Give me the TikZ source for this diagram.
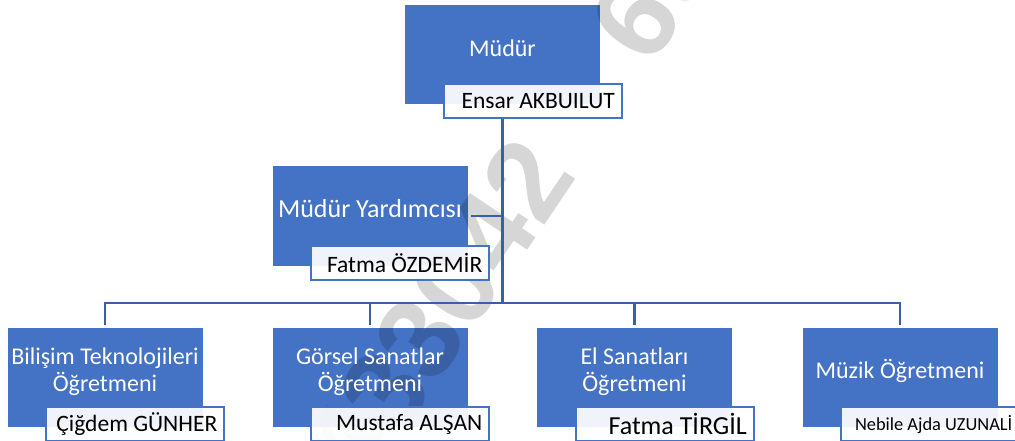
\documentclass[tikz,border=0pt]{standalone}
\usepackage{fontspec}
\setmainfont{Carlito}
\newfontfamily\wmfont{Liberation Sans}
\usetikzlibrary{positioning}
\definecolor{ofblue}{HTML}{4472C4}
\definecolor{linkblue}{HTML}{3A5FA8}

\begin{document}
\begin{tikzpicture}[x=1pt, y=-1pt,
    post/.style={fill=ofblue, minimum width=195pt, minimum height=99pt, inner sep=0pt},
    title/.style={text=white, align=center, inner sep=0pt, font=\fontsize{24}{27}\selectfont},
    namebox/.style={draw=ofblue, line width=2pt, fill=white, fill opacity=0.92, text opacity=1,
        minimum width=178pt, minimum height=34pt, inner sep=0pt, anchor=north west,
        text width=164pt, align=flush right, font=\fontsize{23.5}{26}\selectfont},
    link/.style={draw=linkblue, line width=2.5pt},
    watermark/.style={text=black, text opacity=0.16, inner sep=0pt,
        font=\wmfont\bfseries\fontsize{115}{115}\selectfont}]
    \useasboundingbox (0,0) rectangle (1015,441);

    % Boxes
    \node[post] (mudur) at (502.5,54.5) {};
    \node[post] (yard) at (370,216) {};
    \node[post] (bili) at (105,377.5) {};
    \node[post] (gorsel) at (370,377.5) {};
    \node[post] (el) at (634.5,377.5) {};
    \node[post] (muzik) at (900,377.5) {};

    % Watermark
    \node[watermark, rotate=56] (wm) at (510,206) {433042\hspace{0.85em} 60};

    % Titles
    \node[title] (mudurT) at ([yshift=6pt]mudur.center) {Müdür};
    \node[title, font=\fontsize{26}{30}\selectfont] (yardT) at ([yshift=7pt]yard.center) {Müdür Yardımcısı};
    \node[title] (biliT) at ([yshift=6pt]bili.center) {Bilişim Teknolojileri\\Öğretmeni};
    \node[title] (gorselT) at ([yshift=6pt]gorsel.center) {Görsel Sanatlar\\Öğretmeni};
    \node[title] (elT) at ([yshift=6pt]el.center) {El Sanatları\\Öğretmeni};
    \node[title] (muzikT) at ([yshift=7pt]muzik.center) {Müzik Öğretmeni};

    % Connectors
    \coordinate (bus) at (502.5,303);
    \draw[link] (mudur.south |- 0,118) -- (bus);
    \draw[link] ([xshift=3pt]yard.east) -- (yard.east -| bus);
    \foreach \n in {bili,gorsel,el,muzik}
        \draw[link] (bus) -| ([yshift=3pt]\n.north);

    % Names
    \node[namebox] (mudurN) at ([shift={(38,-21)}]mudur.south west) {Ensar AKBUILUT};
    \node[namebox] (yardN) at ([shift={(38,-21)}]yard.south west) {Fatma ÖZDEMİR};
    \node[namebox] (biliN) at ([shift={(38,-21)}]bili.south west) {Çiğdem GÜNHER};
    \node[namebox] (gorselN) at ([shift={(38,-21)}]gorsel.south west) {Mustafa ALŞAN};
    \node[namebox, font=\fontsize{26}{28}\selectfont] (elN) at ([shift={(38,-21)}]el.south west) {Fatma TİRGİL};
    \node[namebox, font=\fontsize{18.4}{20}\selectfont] (muzikN) at ([shift={(38,-21)}]muzik.south west) {Nebile Ajda UZUNALİ};
\end{tikzpicture}
\end{document}
